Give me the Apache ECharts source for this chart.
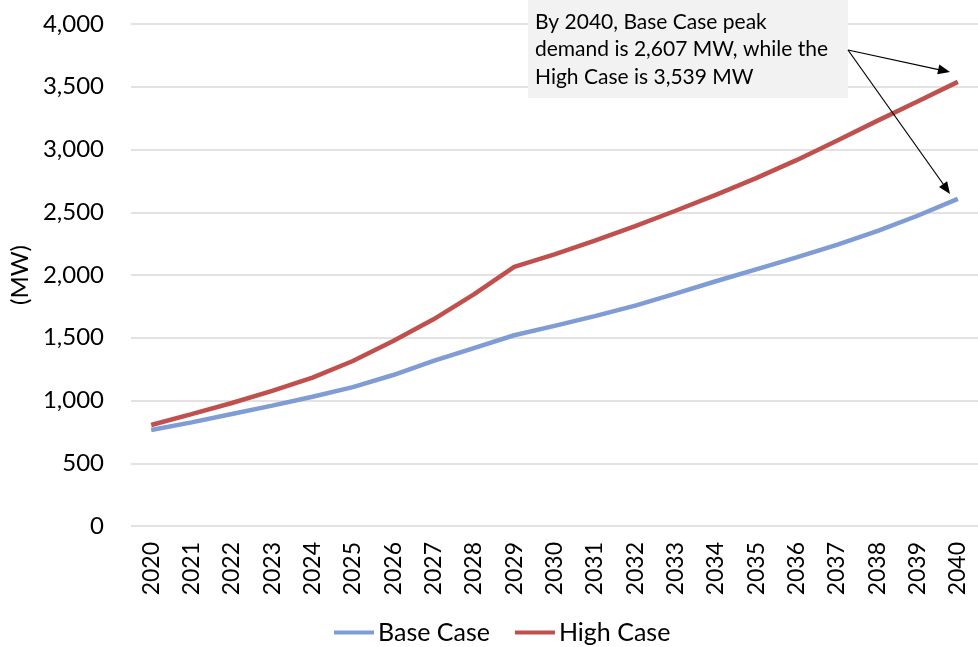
<!DOCTYPE html>
<html>
<head>
<meta charset="utf-8">
<script src="https://cdn.jsdelivr.net/npm/echarts@6/dist/echarts.min.js"></script>
<style>
html,body{margin:0;padding:0;background:#fff;}
#chart{width:978px;height:647px;}
</style>
</head>
<body>
<div id="chart"></div>
<script>
const years = ['2020','2021','2022','2023','2024','2025','2026','2027','2028','2029','2030','2031','2032','2033','2034','2035','2036','2037','2038','2039','2040'];
const baseCase = [765, 826, 892, 959, 1030, 1107, 1203, 1315, 1418, 1520, 1595, 1672, 1756, 1852, 1950, 2045, 2140, 2240, 2350, 2472, 2607];
const highCase = [805, 892, 980, 1076, 1182, 1315, 1474, 1647, 1846, 2065, 2165, 2274, 2390, 2512, 2639, 2772, 2915, 3070, 3228, 3382, 3539];
const yTicks = [0, 500, 1000, 1500, 2000, 2500, 3000, 3500, 4000];
const annotationLines = ['By 2040, Base Case peak', 'demand is 2,607 MW, while the', 'High Case is 3,539 MW'];

const FONT = 'Lato';
const chart = echarts.init(document.getElementById('chart'), null, {renderer: 'canvas'});

function arrowHead(x1, y1, x2, y2, len, halfW) {
  const dx = x2 - x1, dy = y2 - y1;
  const d = Math.sqrt(dx*dx + dy*dy);
  const ux = dx / d, uy = dy / d;
  const bx = x2 - ux * len, by = y2 - uy * len;
  return [[x2, y2], [bx - uy * halfW, by + ux * halfW], [bx + uy * halfW, by - ux * halfW]];
}

const start = [848, 50];
const tip1 = [950, 72];
const tip2 = [950, 194];

chart.setOption({
  animation: false,
  backgroundColor: '#ffffff',
  grid: {left: 130, top: 24, width: 858, height: 502, containLabel: false},
  xAxis: {
    type: 'category',
    data: years,
    boundaryGap: true,
    axisLine: {show: false},
    axisTick: {show: false},
    axisLabel: {rotate: 90, margin: 16, fontFamily: FONT, fontSize: 23, color: '#000'}
  },
  yAxis: {
    type: 'value',
    min: yTicks[0],
    max: yTicks[yTicks.length - 1],
    interval: 500,
    name: '(MW)',
    nameLocation: 'middle',
    nameRotate: 90,
    nameGap: 97,
    nameTextStyle: {fontFamily: FONT, fontSize: 24, color: '#000'},
    axisLine: {show: false},
    axisTick: {show: false},
    axisLabel: {
      margin: 27, fontFamily: FONT, fontSize: 24, color: '#000',
      formatter: v => v.toLocaleString('en-US')
    },
    splitLine: {lineStyle: {color: '#d9d9d9', width: 1.5}}
  },
  legend: {
    left: 329, top: 615,
    icon: 'rect', itemWidth: 40, itemHeight: 4, itemGap: 25,
    textStyle: {fontFamily: FONT, fontSize: 25, color: '#000', padding: [0, 0, 0, -1]},
    data: ['Base Case', 'High Case']
  },
  series: [
    {name: 'Base Case', type: 'line', data: baseCase, symbol: 'none', smooth: false,
     lineStyle: {color: '#7f9cd5', width: 4.5}, itemStyle: {color: '#7f9cd5'}},
    {name: 'High Case', type: 'line', data: highCase, symbol: 'none', smooth: false,
     lineStyle: {color: '#c0504d', width: 4.5}, itemStyle: {color: '#c0504d'}}
  ],
  graphic: [
    {type: 'rect', shape: {x: 528, y: -2, width: 320, height: 100}, style: {fill: '#f2f2f2'}, z: 10},
    {type: 'text', left: 535, top: 8, z: 11,
     style: {text: annotationLines.join('\n'), fontFamily: FONT, fontSize: 21, lineHeight: 27.5, fill: '#000'}},
    {type: 'line', shape: {x1: start[0], y1: start[1], x2: tip1[0] - 8, y2: tip1[1] - 1.7}, style: {stroke: '#000', lineWidth: 1.2}, z: 12},
    {type: 'polygon', shape: {points: arrowHead(start[0], start[1], tip1[0], tip1[1], 12, 5)}, style: {fill: '#000'}, z: 12},
    {type: 'line', shape: {x1: start[0], y1: start[1], x2: tip2[0] - 4, y2: tip2[1] - 6}, style: {stroke: '#000', lineWidth: 1.2}, z: 12},
    {type: 'polygon', shape: {points: arrowHead(start[0], start[1], tip2[0], tip2[1], 12, 5)}, style: {fill: '#000'}, z: 12}
  ]
});
</script>
</body>
</html>
